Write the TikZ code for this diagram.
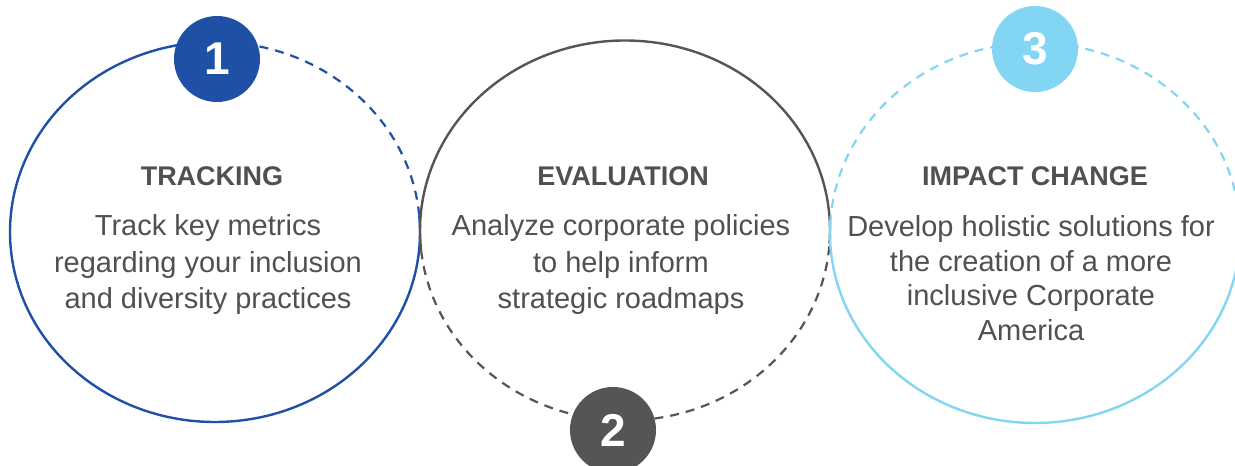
\documentclass[tikz,border=0pt]{standalone}
\usepackage{fontspec}
\setmainfont{Liberation Sans}
\usetikzlibrary{calc}
\definecolor{blueA}{HTML}{1F50A5}
\definecolor{grayA}{HTML}{555555}
\definecolor{skyA}{HTML}{83D5F4}
\definecolor{txt}{HTML}{505050}
\tikzset{
  ring/.style={line width=2.4pt},
  dashring/.style={line width=2.2pt, dash pattern=on 9pt off 7pt},
  badge/.style={circle, minimum size=86pt, inner sep=0pt, text=white,
    font=\fontsize{46}{46}\selectfont\bfseries},
  ttl/.style={text=txt, font=\fontsize{27}{30}\selectfont\bfseries},
  body/.style={text=txt, align=center, font=\fontsize{29}{36.5}\selectfont},
}
\begin{document}
\begin{tikzpicture}[x=1pt,y=1pt]
\useasboundingbox (0,0) rectangle (1235,466);
% centres
\coordinate (c1) at (215,234);
\coordinate (c2) at (625,235.5);
\coordinate (c3) at (1035,233);
% circle 1 (blue)
\draw[ring, blueA] ($(c1)+(5:205pt and 190pt)$) arc[start angle=5, end angle=-270, x radius=205pt, y radius=190pt];
\draw[dashring, blueA] ($(c1)+(5:205pt and 190pt)$) arc[start angle=5, end angle=90, x radius=205pt, y radius=190pt];
% circle 2 (gray)
\draw[ring, grayA] ($(c2)+(-4:205pt and 190pt)$) arc[start angle=-4, end angle=186, x radius=205pt, y radius=190pt];
\draw[dashring, grayA] ($(c2)+(186:205pt and 190pt)$) arc[start angle=186, end angle=356, x radius=205pt, y radius=190pt];
% circle 3 (light blue)
\draw[ring, skyA] ($(c3)+(176:205pt and 190pt)$) arc[start angle=176, end angle=368, x radius=205pt, y radius=190pt];
\draw[dashring, skyA] ($(c3)+(8:205pt and 190pt)$) arc[start angle=8, end angle=176, x radius=205pt, y radius=190pt];
% badges
\node[badge, fill=blueA] (b1) at (217,407) {1};
\node[badge, fill=grayA] (b2) at (613,36) {2};
\node[badge, fill=skyA] (b3) at (1035,417) {3};
% titles
\node[ttl] (t1) at (212,290) {TRACKING};
\node[ttl] (t2) at (623,290) {EVALUATION};
\node[ttl] (t3) at (1035,290) {IMPACT CHANGE};
% bodies
\node[body] (d1) at (208,201) {Track key metrics\\regarding your inclusion\\and diversity practices};
\node[body] (d2) at (621,201) {Analyze corporate policies\\to help inform\\strategic roadmaps};
\node[body, font=\fontsize{29}{34.7}\selectfont] (d3) at (1031,188) {Develop holistic solutions for\\the creation of a more\\inclusive Corporate\\America};
\end{tikzpicture}
\end{document}
